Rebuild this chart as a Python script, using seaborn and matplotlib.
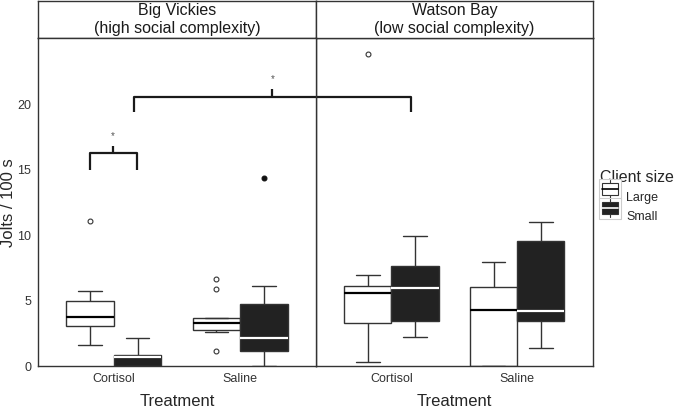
import numpy as np
import pandas as pd
import matplotlib
matplotlib.use("Agg")
import matplotlib.pyplot as plt
import seaborn as sns
from matplotlib.legend_handler import HandlerBase
from matplotlib.patches import Rectangle
from matplotlib.lines import Line2D

sites = ["Big Vickies\n(high social complexity)", "Watson Bay\n(low social complexity)"]
treatments = ["Cortisol", "Saline"]
sizes = ["Large", "Small"]

bv_cortisol_large = [1.6, 2.5, 2.9, 3.08, 3.3, 3.6, 3.79, 4.1, 4.6, 5.0, 5.3, 5.77, 11.09]
bv_cortisol_small = [0, 0, 0, 0, 0.2, 0.5, 0.68, 0.75, 0.85, 0.9, 1.2, 1.6, 2.18]
bv_saline_large = [1.19, 2.6, 2.7, 2.77, 3.0, 3.2, 3.28, 3.4, 3.6, 3.69, 3.69, 5.88, 6.69]
bv_saline_small = [0, 0.5, 0.9, 1.15, 1.5, 1.9, 2.18, 2.8, 3.9, 4.76, 5.4, 6.15, 14.4]
wb_cortisol_large = [0.35, 1.5, 2.6, 3.28, 4.2, 5.0, 5.57, 5.8, 6.0, 6.15, 6.5, 6.97, 23.8]
wb_cortisol_small = [2.26, 2.9, 3.2, 3.48, 4.5, 5.3, 5.95, 6.5, 7.1, 7.68, 8.5, 9.2, 9.97]
wb_saline_large = [0, 0, 0, 0, 1.5, 3.2, 4.3, 5.0, 5.6, 6.08, 6.8, 7.4, 7.96]
wb_saline_small = [1.37, 2.5, 3.1, 3.48, 3.8, 4.0, 4.22, 5.5, 8.0, 9.59, 10.1, 10.6, 11.04]

# significance brackets: (x left, x right, y top, y legs)
bracket1 = [-0.19, 0.18, 16.26, 15.0]
bracket2 = [0.16, 0.155, 20.58, 19.4]

groups = {
    (0, "Cortisol", "Large"): bv_cortisol_large,
    (0, "Cortisol", "Small"): bv_cortisol_small,
    (0, "Saline", "Large"): bv_saline_large,
    (0, "Saline", "Small"): bv_saline_small,
    (1, "Cortisol", "Large"): wb_cortisol_large,
    (1, "Cortisol", "Small"): wb_cortisol_small,
    (1, "Saline", "Large"): wb_saline_large,
    (1, "Saline", "Small"): wb_saline_small,
}
rows = []
for (site, treat, size), vals in groups.items():
    for v in vals:
        rows.append({"site": site, "Treatment": treat, "Client size": size, "Jolts": v})
df = pd.DataFrame(rows)

sns.set_style("white")
plt.rcParams["font.family"] = ["Liberation Sans", "DejaVu Sans"]

dark = "#333333"
fill = {"Large": "white", "Small": "#222222"}

fig = plt.figure(figsize=(6.75, 4.13), dpi=100)
W, H = 675, 413
left1, mid, right2 = 38 / W, 316 / W, 592.7 / W
bottom, top = 1 - 366.3 / H, 1 - 38 / H
strip_top = 1 - 1 / H

axes = []
for i in range(2):
    x0 = left1 if i == 0 else mid
    x1 = mid if i == 0 else right2
    ax = fig.add_axes([x0, bottom, x1 - x0, top - bottom])
    sub = df[df["site"] == i]
    sns.boxplot(data=sub, x="Treatment", y="Jolts", hue="Client size",
                order=treatments, hue_order=sizes, palette=fill, linecolor=dark,
                width=0.75, gap=0, linewidth=1.0, whis=1.5, legend=False,
                flierprops=dict(marker="o", markersize=3.5, markeredgewidth=0.8,
                                markeredgecolor=dark, markerfacecolor="white"),
                medianprops=dict(color="black", linewidth=1.6), ax=ax)
    # small boxes: white median, black outliers
    cont = ax.containers[1]
    for m in cont.medians:
        m.set_color("white")
    for f in cont.fliers:
        f.set_markerfacecolor("#111111")
        f.set_markeredgecolor("#111111")
    ax.set_xlim(-0.6, 1.6)
    ax.set_ylim(0, 25.05)
    ax.set_xlabel("Treatment", fontsize=12, labelpad=6)
    ax.tick_params(axis="x", length=3, color=dark, labelsize=9, labelcolor="#333333", pad=2)
    if i == 0:
        ax.set_yticks([0, 5, 10, 15, 20])
        ax.set_ylabel("Jolts / 100 s", fontsize=12)
        ax.yaxis.set_label_coords(-0.078, 0.5)
        ax.tick_params(axis="y", length=3, color=dark, labelsize=9, labelcolor="#333333", pad=2)
    else:
        ax.set_yticks([])
        ax.set_ylabel("")
        ax.patch.set_visible(False)
    for s in ax.spines.values():
        s.set_color(dark)
        s.set_linewidth(1.0)
    axes.append(ax)

    # strip on top
    sax = fig.add_axes([x0, top, x1 - x0, strip_top - top])
    sax.set_xticks([])
    sax.set_yticks([])
    for s in sax.spines.values():
        s.set_color(dark)
        s.set_linewidth(1.0)
    sax.text(0.5, 0.5, sites[i], ha="center", va="center", fontsize=11.5,
             color="#1a1a1a", linespacing=1.2, transform=sax.transAxes)

ax1, ax2 = axes
ax1.set_zorder(3)
lk = dict(color="#1a1a1a", linewidth=1.6, clip_on=False, solid_capstyle="butt")

# bracket 1: Large vs Small cortisol at Big Vickies
xl, xr, yt, yl = bracket1
ax1.plot([xl, xl, xr, xr], [yl, yt, yt, yl], **lk)
xm = (xl + xr) / 2
ax1.plot([xm, xm], [yt, yt + 0.58], **lk)
ax1.text(xm, yt + 0.9, "*", ha="center", va="bottom", fontsize=7, color="#555555")

# bracket 2: small cortisol, Big Vickies vs Watson Bay
xl, xr2, yt, yl = bracket2
xr = ax1.transData.inverted().transform(ax2.transData.transform((xr2, yt)))[0]
ax1.plot([xl, xl, xr, xr], [yl, yt, yt, yl], **lk)
xm = (xl + xr) / 2
ax1.plot([xm, xm], [yt, yt + 0.6], **lk)
ax1.text(xm, yt + 0.95, "*", ha="center", va="bottom", fontsize=7, color="#555555")


class BoxKey(HandlerBase):
    def create_artists(self, legend, orig, xd, yd, w, h, fs, trans):
        fc, mc = orig
        bw = w * 0.8
        x0 = xd + (w - bw) / 2
        cx = xd + w / 2
        bg = Rectangle((xd - 1, yd - 2), w + 2, h + 4, facecolor="white",
                       edgecolor="#cccccc", linewidth=0.8, transform=trans)
        wl = Line2D([cx, cx], [yd - 1, yd + h + 1], color=dark, linewidth=0.8, transform=trans)
        box = Rectangle((x0, yd + h * 0.1), bw, h * 0.8, facecolor=fc,
                        edgecolor=dark, linewidth=0.8, transform=trans)
        med = Line2D([x0, x0 + bw], [yd + h / 2, yd + h / 2], color=mc,
                     linewidth=1.2, transform=trans)
        return [bg, wl, box, med]


handles = [("white", "black"), ("#222222", "white")]
fig.legend(handles, sizes, handler_map={tuple: BoxKey()}, title="Client size",
           loc="upper left", bbox_to_anchor=(600 / W, 1 - 170 / H), frameon=False,
           fontsize=9, title_fontsize=11.5, handlelength=1.6, handleheight=1.5,
           handletextpad=0.5, labelspacing=0.3, alignment="left", borderpad=0.0,
           borderaxespad=0.0)

fig.savefig("out.png", dpi=100)
